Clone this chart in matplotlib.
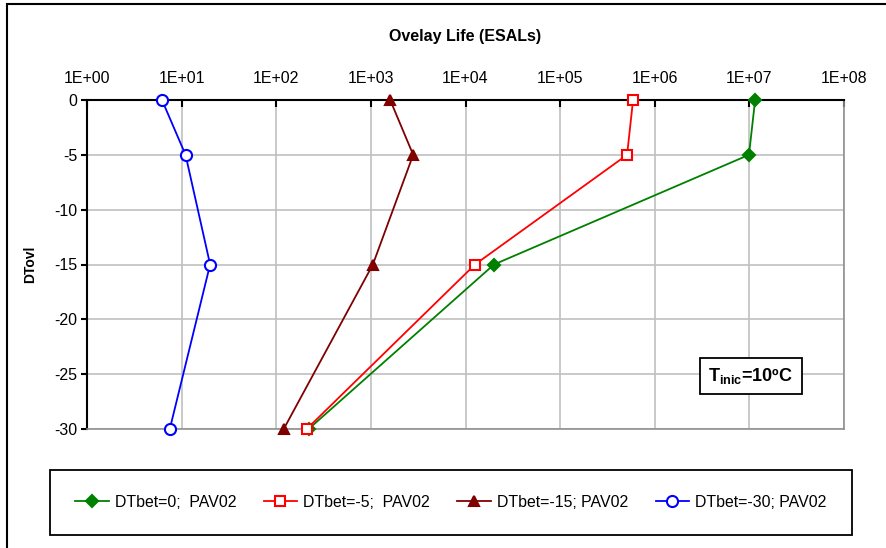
import matplotlib
matplotlib.use('Agg')
import matplotlib.pyplot as plt
from matplotlib.patches import Rectangle
from matplotlib.ticker import FixedLocator

plt.rcParams['font.family'] = ['Liberation Sans', 'DejaVu Sans']
plt.rcParams['mathtext.fontset'] = 'custom'
plt.rcParams['mathtext.rm'] = 'Liberation Sans'
plt.rcParams['mathtext.bf'] = 'Liberation Sans:bold'

# variacao de temperatura da camada (eixo vertical)
dt_ovl = [0, -5, -15, -30]

# vida do reforco (ESALs) para cada DTbet
esal_0 = [1.15e7, 9.9e6, 2.0e4, 2.2e2]
esal_5 = [5.9e5, 5.1e5, 1.26e4, 2.1e2]
esal_15 = [1.6e3, 2.8e3, 1.05e3, 1.2e2]
esal_30 = [6.2, 11.0, 20.0, 7.5]

labels = ['DTbet=0;  PAV02', 'DTbet=-5;  PAV02',
          'DTbet=-15; PAV02', 'DTbet=-30; PAV02']
x_ticks = [1e0, 1e1, 1e2, 1e3, 1e4, 1e5, 1e6, 1e7, 1e8]
x_tick_labels = ['1E+00', '1E+01', '1E+02', '1E+03', '1E+04',
                 '1E+05', '1E+06', '1E+07', '1E+08']
y_ticks = [0, -5, -10, -15, -20, -25, -30]

fig = plt.figure(figsize=(8.87, 5.48), dpi=100)
ax = fig.add_axes([87 / 887, 1 - 429 / 548, 757 / 887, 329 / 548])

# moldura externa
fig.patches.append(Rectangle((7 / 887, -0.05), 1.0, 1 - 4 / 548 + 0.05,
                             transform=fig.transFigure, fill=False,
                             edgecolor='black', linewidth=1.5))

series = [
    (esal_0, '#008000', 'D', '#008000', 6),
    (esal_5, '#ff0000', 's', 'white', 7),
    (esal_15, '#800000', '^', '#800000', 7),
    (esal_30, '#0000ff', 'o', 'white', 8),
]
handles = []
for (vals, col, mk, face, ms), lab in zip(series, labels):
    h, = ax.plot(vals, dt_ovl, color=col, marker=mk, markerfacecolor=face,
                 markeredgecolor=col, markeredgewidth=1.5, markersize=ms,
                 linewidth=1.3, label=lab, clip_on=False, zorder=3)
    handles.append(h)

ax.set_xscale('log')
ax.set_xlim(1e0, 1e8)
ax.set_ylim(-30, 0)
ax.xaxis.set_major_locator(FixedLocator(x_ticks))
ax.xaxis.set_minor_locator(FixedLocator([]))
ax.set_xticklabels(x_tick_labels)
ax.set_yticks(y_ticks)
ax.set_yticklabels([str(v) for v in y_ticks])

ax.xaxis.tick_top()
ax.xaxis.set_label_position('top')
ax.tick_params(axis='x', direction='in', length=5, width=1.5, labelsize=11.5,
               pad=10, top=True, bottom=False)
ax.tick_params(axis='y', direction='out', length=4, width=1.5,
               labelsize=11.5, pad=3)

ax.grid(True, color='#c0c0c0', linewidth=1.2, zorder=0)
ax.set_axisbelow(True)
ax.spines['top'].set_color('black')
ax.spines['top'].set_linewidth(1.5)
ax.spines['left'].set_color('black')
ax.spines['left'].set_linewidth(1.5)
ax.spines['right'].set_color('#909090')
ax.spines['bottom'].set_color('#909090')
ax.spines['right'].set_linewidth(1.2)
ax.spines['bottom'].set_linewidth(1.2)

ax.set_xlabel('Ovelay Life (ESALs)', fontsize=11.5, fontweight='bold',
              labelpad=22)
ax.set_ylabel('DTovl', fontsize=10, fontweight='bold', labelpad=12)

ax.text(0.877, 0.161, r'$\mathbf{T_{inic}}$=10ºC', transform=ax.transAxes,
        ha='center', va='center', fontsize=13, fontweight='bold',
        bbox=dict(boxstyle='square,pad=0.45', facecolor='white',
                  edgecolor='black', linewidth=1.3), zorder=5)

leg = fig.legend(handles=handles, loc='center', ncol=4,
                 bbox_to_anchor=(50 / 887, 1 - 535 / 548, 802 / 887, 65 / 548),
                 mode='expand', fontsize=11.4, frameon=True, fancybox=False,
                 framealpha=1, edgecolor='black', handlelength=2.1,
                 handletextpad=0.4, borderpad=1.6, borderaxespad=0)
leg.get_frame().set_linewidth(1.3)

fig.savefig('out.png', dpi=100)
